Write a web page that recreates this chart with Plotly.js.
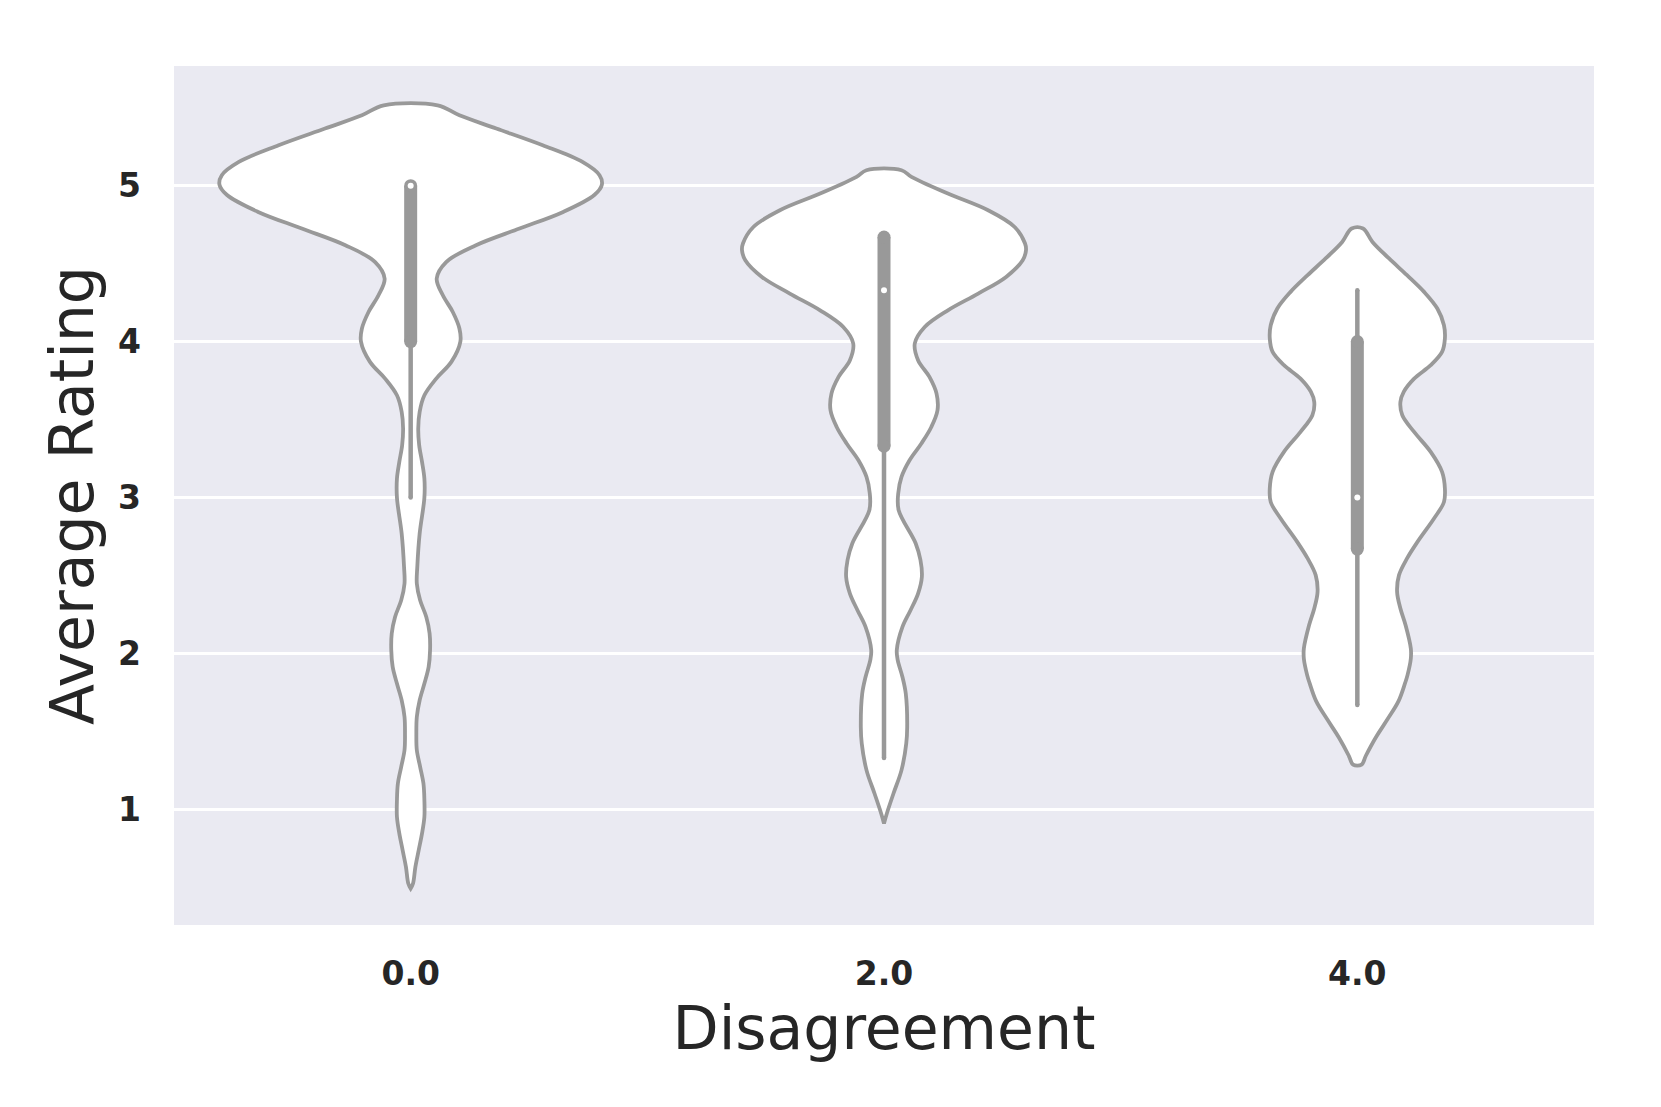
<!DOCTYPE html>
<html>
<head>
<meta charset="utf-8">
<script src="https://cdn.plot.ly/plotly-3.0.1.min.js"></script>
<style>html,body{margin:0;padding:0;background:#fff}</style>
</head>
<body>
<div id="chart" style="width:1661px;height:1107px"></div>
<script>
const categories = ['0.0', '2.0', '4.0'];

// violin outlines: rating (y) and half width (category units)
const rating0 = [0.494, 0.526, 0.633, 0.74, 0.847, 0.953, 1.06, 1.167, 1.274, 1.381, 1.488, 1.594, 1.701, 1.808, 1.915,
    2.022, 2.129, 2.235, 2.342, 2.449, 2.556, 2.77, 3.0, 3.122, 3.229, 3.336, 3.443, 3.55, 3.656, 3.763, 3.87, 4.0,
    4.084, 4.19, 4.297, 4.404, 4.51, 4.618, 4.725, 4.83, 4.94, 5.007, 5.067, 5.152, 5.259, 5.366, 5.451, 5.515];
const halfWidth0 = [0, 0.005, 0.010, 0.017, 0.024, 0.029, 0.029, 0.027, 0.020, 0.013, 0.012, 0.013, 0.019, 0.029, 0.038,
    0.041, 0.040, 0.033, 0.020, 0.013, 0.014, 0.019, 0.029, 0.029, 0.024, 0.018, 0.016, 0.019, 0.029, 0.054, 0.086, 0.105,
    0.103, 0.089, 0.068, 0.055, 0.075, 0.138, 0.230, 0.321, 0.388, 0.404, 0.399, 0.363, 0.279, 0.181, 0.103, 0.057];

const rating1 = [0.911, 0.975, 1.103, 1.253, 1.424, 1.53, 1.744, 1.85, 1.958, 2.022, 2.171, 2.278, 2.385, 2.492, 2.6,
    2.706, 2.919, 3.026, 3.133, 3.24, 3.347, 3.453, 3.56, 3.667, 3.774, 3.881, 3.988, 4.094, 4.201, 4.308, 4.415,
    4.522, 4.586, 4.629, 4.735, 4.842, 4.949, 5.056, 5.099];
const halfWidth1 = [0, 0.006, 0.020, 0.037, 0.047, 0.049, 0.046, 0.039, 0.029, 0.027, 0.039, 0.056, 0.072, 0.080, 0.077,
    0.067, 0.031, 0.030, 0.037, 0.054, 0.079, 0.100, 0.113, 0.111, 0.096, 0.072, 0.065, 0.086, 0.135, 0.199, 0.258,
    0.293, 0.300, 0.298, 0.276, 0.220, 0.135, 0.058, 0.037];

const rating2 = [1.288, 1.345, 1.462, 1.58, 1.695, 1.812, 1.862, 1.968, 2.033, 2.182, 2.289,
    2.396, 2.503, 2.61, 2.716, 2.866, 2.972, 3.058, 3.165, 3.293, 3.421, 3.528, 3.613, 3.678, 3.763, 3.849, 3.934,
    4.02, 4.105, 4.212, 4.319, 4.426, 4.533, 4.639, 4.725];
const halfWidth2 = [0.009, 0.018, 0.039, 0.064, 0.087, 0.101, 0.106, 0.113, 0.113, 0.102, 0.091,
    0.084, 0.088, 0.105, 0.127, 0.162, 0.183, 0.185, 0.179, 0.155, 0.120, 0.095, 0.091, 0.098, 0.120, 0.155, 0.179,
    0.185, 0.183, 0.169, 0.141, 0.105, 0.067, 0.032, 0.012];

// inner box summary
const whiskerLow = [3.0, 1.33, 1.67];
const whiskerHigh = [5.0, 4.67, 4.33];
const q1 = [4.0, 3.33, 2.67];
const q3 = [5.0, 4.67, 4.0];
const medians = [5.0, 4.33, 3.0];

const gray = '#999999';
const ink = '#262626';
const outlines = [[rating0, halfWidth0], [rating1, halfWidth1], [rating2, halfWidth2]];

const traces = [];
outlines.forEach(([ys, hw], i) => {
    const x = ys.map((y, k) => i - hw[k]);
    const y = ys.slice();
    for (let k = ys.length - 1; k >= 0; k--) {
        x.push(i + hw[k]);
        y.push(ys[k]);
    }
    x.push(x[0]);
    y.push(y[0]);
    traces.push({
        type: 'scatter', mode: 'lines', x, y,
        fill: 'toself', fillcolor: '#ffffff',
        line: { color: gray, width: 3.8, shape: 'spline', smoothing: 1 },
        hoverinfo: 'skip'
    });
});

categories.forEach((c, i) => {
    traces.push({
        type: 'scatter', mode: 'lines+markers',
        x: [i, i], y: [whiskerLow[i], whiskerHigh[i]],
        line: { color: gray, width: 4.5 },
        marker: { color: gray, size: 4.5 },
        hoverinfo: 'skip'
    });
    traces.push({
        type: 'scatter', mode: 'lines+markers',
        x: [i, i], y: [q1[i], q3[i]],
        line: { color: gray, width: 13 },
        marker: { color: gray, size: 13 },
        hoverinfo: 'skip'
    });
    traces.push({
        type: 'scatter', mode: 'markers',
        x: [i], y: [medians[i]],
        marker: { color: '#ffffff', size: 6 },
        hoverinfo: 'skip'
    });
});

const layout = {
    width: 1661, height: 1107,
    margin: { l: 174, r: 67, t: 66, b: 182 },
    paper_bgcolor: '#ffffff',
    plot_bgcolor: '#EAEAF2',
    showlegend: false,
    hovermode: false,
    xaxis: {
        range: [-0.5, 2.5],
        tickvals: [0, 1, 2],
        ticktext: categories,
        showgrid: false, zeroline: false, showline: false,
        ticks: '',
        ticklabelstandoff: 26,
        tickfont: { family: 'DejaVu Sans', size: 33, weight: 'bold', color: ink },
        title: { text: 'Disagreement', font: { family: 'DejaVu Sans', size: 60, color: ink }, standoff: 8 }
    },
    yaxis: {
        range: [0.26, 5.767],
        tickvals: [1, 2, 3, 4, 5],
        showgrid: true, gridcolor: '#ffffff', gridwidth: 2.5,
        zeroline: false, showline: false,
        ticks: '',
        ticklabelstandoff: 32,
        tickfont: { family: 'DejaVu Sans', size: 33, weight: 'bold', color: ink },
        title: { text: 'Average Rating', font: { family: 'DejaVu Sans', size: 60, color: ink }, standoff: 5 }
    }
};

Plotly.newPlot('chart', traces, layout, { displayModeBar: false, staticPlot: true });
</script>
</body>
</html>
